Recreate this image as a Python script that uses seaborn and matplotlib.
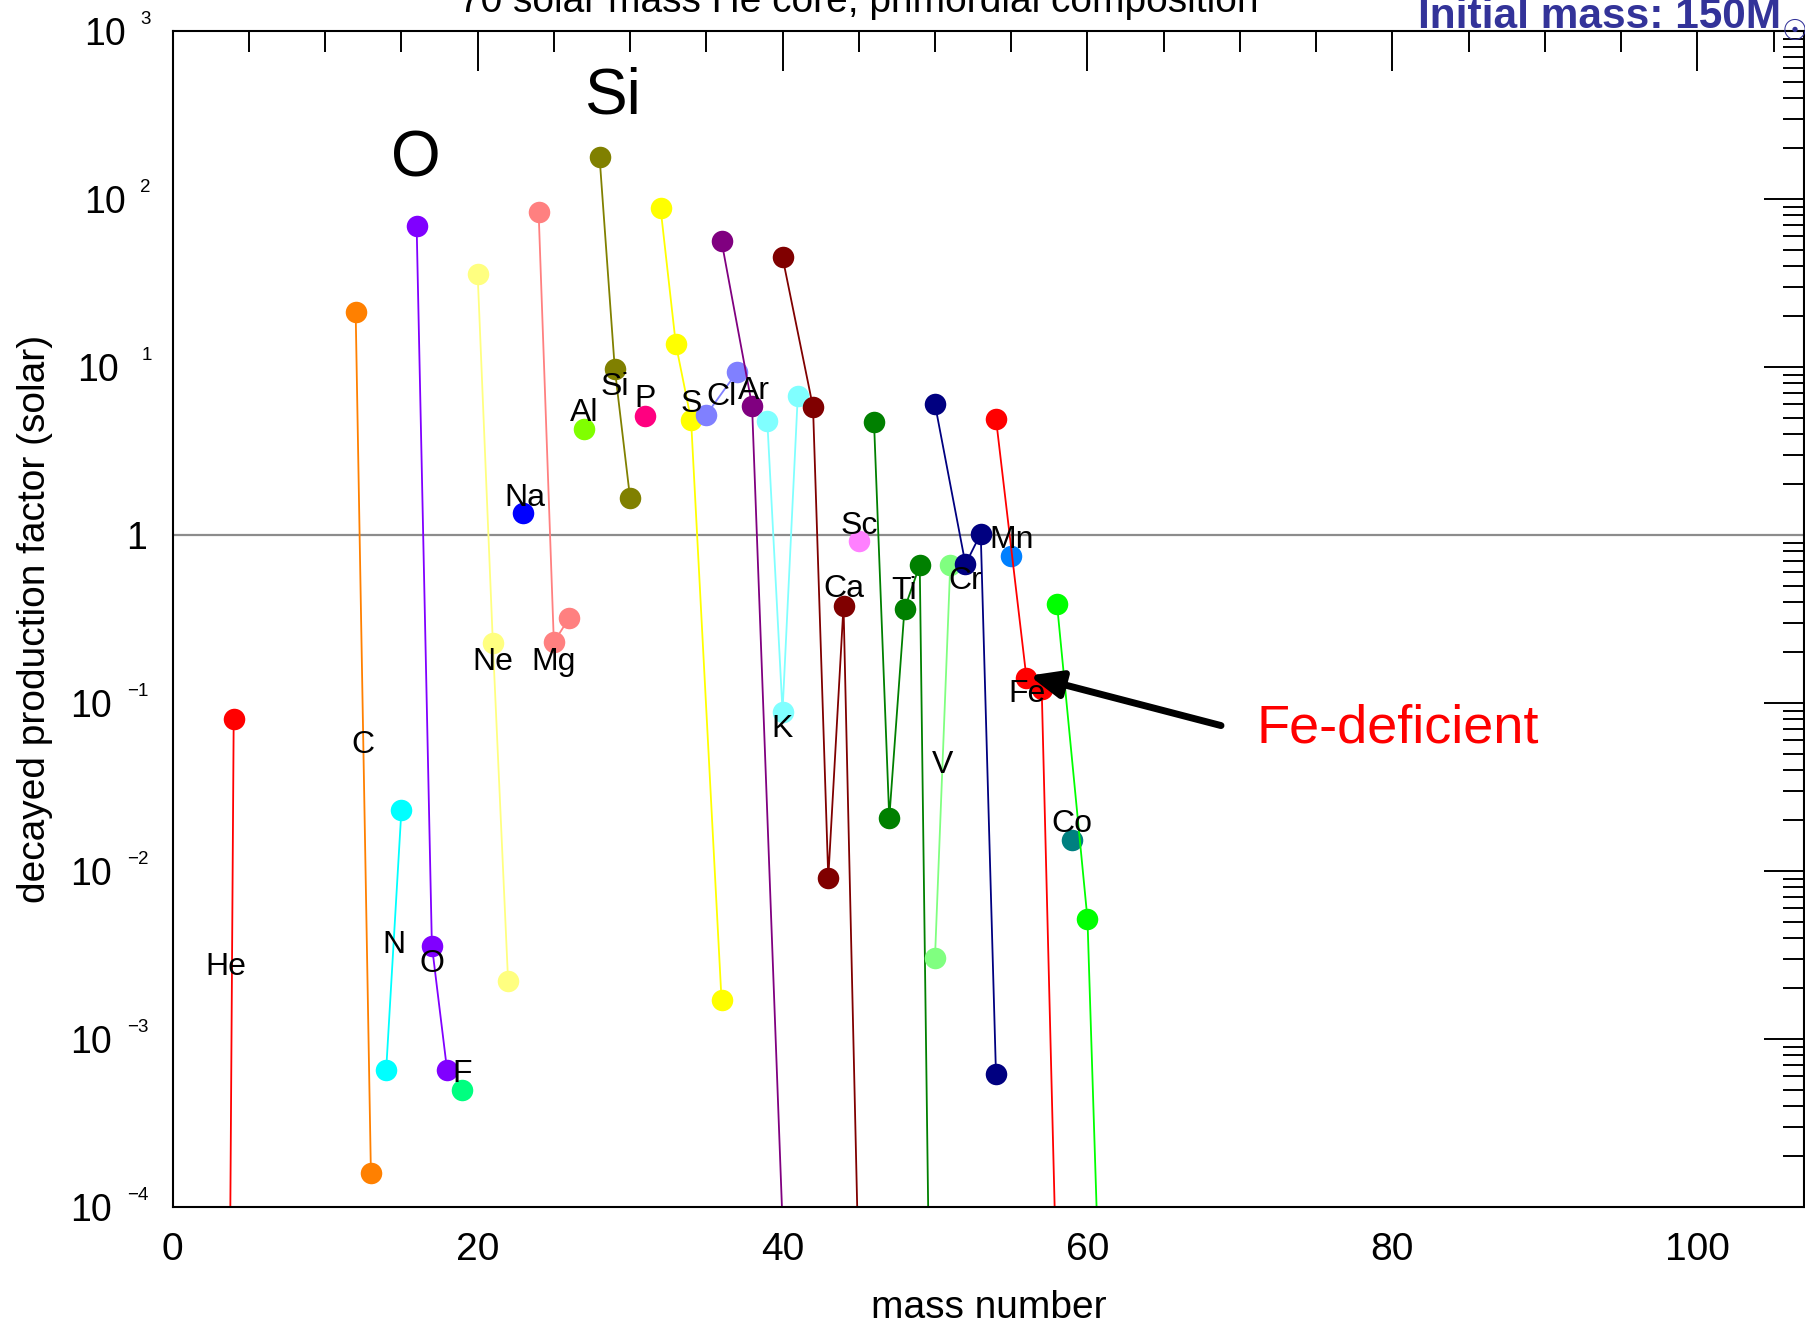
import numpy as np
import pandas as pd
import matplotlib
matplotlib.use("Agg")
import matplotlib.pyplot as plt
from matplotlib.ticker import MultipleLocator, LogLocator, NullFormatter
import seaborn as sns

# ---------------- data ----------------
elements = ["He", "C", "N", "O", "F", "Ne", "Na", "Mg", "Al", "Si", "P", "S",
            "Cl", "Ar", "K", "Ca", "Sc", "Ti", "V", "Cr", "Mn", "Fe", "Co", "Ni"]

mass_numbers = [
    [3, 4], [12, 13], [14, 15], [16, 17, 18], [19], [20, 21, 22], [23],
    [24, 25, 26], [27], [28, 29, 30], [31], [32, 33, 34, 36], [35, 37],
    [36, 38, 40], [39, 40, 41], [40, 42, 43, 44, 46, 48], [45],
    [46, 47, 48, 49, 50], [50, 51], [50, 52, 53, 54], [55], [54, 56, 57, 58],
    [59], [58, 60, 61, 62, 64],
]

production_factors = [
    [5e-15, 0.08], [21.3, 1.6e-4], [6.5e-4, 0.023], [69.0, 3.6e-3, 6.5e-4],
    [5.0e-4], [36.0, 0.227, 2.2e-3], [1.35], [84.0, 0.23, 0.32], [4.3],
    [177.0, 9.7, 1.66], [5.08], [88.0, 13.7, 4.85, 1.7e-3], [5.2, 9.3],
    [56.0, 5.9, 8e-5], [4.77, 0.089, 6.75],
    [45.0, 5.77, 9.1e-3, 0.38, 4e-9, 1e-7], [0.92],
    [4.7, 0.0206, 0.364, 0.66, 8e-8], [3.05e-3, 0.66],
    [6.0, 0.67, 1.02, 6.2e-4], [0.75], [4.92, 0.141, 0.121, 2.8e-5],
    [0.0153], [0.39, 5.2e-3, 7e-6, 1e-6, 1e-8],
]

colors = ["#ff0000", "#ff8000", "#00ffff", "#8000ff", "#00ff80", "#ffff80",
          "#0000ff", "#ff8080", "#80ff00", "#808000", "#ff0080", "#ffff00",
          "#8080ff", "#800080", "#80ffff", "#800000", "#ff80ff", "#008000",
          "#80ff80", "#000080", "#0080ff", "#ff0000", "#008080", "#00ff00"]

# element label positions (data coords)
label_names = ["He", "C", "N", "O", "F", "Ne", "Na", "Mg", "Al", "Si", "P", "S",
               "Cl", "Ar", "K", "Ca", "Sc", "Ti", "V", "Cr", "Mn", "Fe", "Co"]
label_x = [3.47, 12.46, 14.5, 17.0, 18.96, 21.0, 23.1, 25.0, 27.0, 29.0, 31.0,
           34.0, 36.0, 38.1, 40.0, 44.0, 45.0, 48.0, 50.5, 52.0, 55.05, 56.05, 59.0]
label_y = [2.8e-3, 0.059, 3.8e-3, 2.95e-3, 6.5e-4, 0.185, 1.75, 0.185, 5.6, 8.0,
           6.75, 6.3, 7.0, 7.5, 0.073, 0.50, 1.19, 0.485, 0.045, 0.56, 0.985,
           0.119, 0.020]

x_ticks = [0, 20, 40, 60, 80, 100]
y_exponents = [-4, -3, -2, -1, 0, 1, 2, 3]

# ---------------- build table ----------------
rows = []
for el, As, pfs in zip(elements, mass_numbers, production_factors):
    for a, p in zip(As, pfs):
        rows.append({"element": el, "A": a, "pf": p})
df = pd.DataFrame(rows)
palette = dict(zip(elements, colors))

# ---------------- style ----------------
sns.set_style("white")
plt.rcParams['font.family'] = ['Liberation Sans', 'DejaVu Sans']
plt.rcParams['axes.linewidth'] = 1.5
plt.rcParams['axes.edgecolor'] = 'black'
plt.rcParams['axes.unicode_minus'] = True
plt.rcParams['text.color'] = 'black'
plt.rcParams['axes.labelcolor'] = 'black'
plt.rcParams['xtick.color'] = 'black'
plt.rcParams['ytick.color'] = 'black'
plt.rcParams['xtick.labelcolor'] = 'black'
plt.rcParams['ytick.labelcolor'] = 'black'

fig = plt.figure(figsize=(18.06, 13.23), dpi=100)
ax = fig.add_axes([0.09563, 0.08768, 0.90326, 0.88888])
ax.set_yscale("log")

ax.axhline(1.0, color="#8c8c8c", lw=1.6, zorder=1.5)

sns.lineplot(data=df, x="A", y="pf", hue="element", hue_order=elements,
             palette=palette, estimator=None, sort=False, marker="o",
             markersize=15.5, markeredgewidth=0, linewidth=1.3,
             legend=False, ax=ax, zorder=2)

ax.set_xlim(0, 107)
ax.set_ylim(1e-4, 1e3)

# ticks
ax.xaxis.set_major_locator(plt.FixedLocator(x_ticks))
ax.xaxis.set_minor_locator(MultipleLocator(5))
ax.yaxis.set_major_locator(LogLocator(base=10, numticks=20))
ax.yaxis.set_minor_locator(LogLocator(base=10, subs=np.arange(2, 10), numticks=20))
ax.yaxis.set_major_formatter(NullFormatter())
ax.yaxis.set_minor_formatter(NullFormatter())
ax.tick_params(which="both", direction="in", top=True, right=True,
               color="black", width=1.4, labelcolor="black")
ax.tick_params(which="major", length=28.8)
ax.tick_params(which="minor", length=15)
ax.tick_params(axis="x", labelsize=28, pad=18)
ax.tick_params(axis="y", labelleft=False)

# y tick labels in "10 ^n" style
for k in y_exponents:
    val = 10.0 ** k
    if k == 0:
        ax.annotate("1", xy=(0, val), xycoords=("axes fraction", "data"),
                    xytext=(-18.5, 0), textcoords="offset points",
                    ha="right", va="center_baseline", fontsize=27,
                    color="black", annotation_clip=False)
        continue
    if k > 0:
        base_dx, exp_dx = -33.6, -23.3
        if k == 1:
            base_dx, exp_dx = -38.5, -22.5
    else:
        base_dx, exp_dx = -44.0, -32.5
    ax.annotate("10", xy=(0, val), xycoords=("axes fraction", "data"),
                xytext=(base_dx, 0), textcoords="offset points",
                ha="right", va="center_baseline", fontsize=27,
                color="black", annotation_clip=False)
    exp_txt = str(k) if k > 0 else "\u2212" + str(-k)
    ax.annotate(exp_txt, xy=(0, val), xycoords=("axes fraction", "data"),
                xytext=(exp_dx, 9.4), textcoords="offset points",
                ha="left", va="center_baseline", fontsize=13.5,
                color="black", annotation_clip=False)

ax.set_xlabel("mass number", fontsize=28, color="black")
ax.xaxis.set_label_coords(0.5, -0.0708)
ax.set_ylabel("decayed production factor (solar)", fontsize=28, va="center",
              color="black")
ax.yaxis.set_label_coords(-0.0844, 0.5)

# element labels
for name, lx, ly in zip(label_names, label_x, label_y):
    ax.text(lx, ly, name, fontsize=23, ha="center", va="center_baseline",
            color="black", zorder=5)

ax.text(15.94, 173, "O", fontsize=46, ha="center", va="center",
        color="black", zorder=5)
ax.text(28.83, 410, "Si", fontsize=46, ha="center", va="center",
        color="black", zorder=5)

# Fe-deficient annotation
ax.annotate("", xy=(56.18, 0.1455), xytext=(68.76, 0.0734),
            arrowprops=dict(arrowstyle="-|>,head_length=0.4,head_width=0.17",
                            mutation_scale=48, lw=5, color="black",
                            shrinkA=0, shrinkB=0), zorder=6)
ax.text(71.12, 0.058, "Fe-deficient", fontsize=39, color="#ff0000",
        ha="left", va="baseline", zorder=6)

# titles (partially clipped at figure top, as in the reference)
fig.text(859 / 1806, 1 - 11.5 / 1323,
         "70 solar mass He core, primordial composition",
         ha="center", va="baseline", fontsize=28, color="black")
fig.text(1781 / 1806, 1 - 28 / 1323, "Initial mass: 150M",
         ha="right", va="baseline", fontsize=30.5, fontweight="bold",
         color="#333399")
fig.text(1795 / 1806, 1 - 32 / 1323, "\u2609", ha="center", va="center",
         fontsize=21, fontweight="bold", color="#333399",
         family=["DejaVu Sans"])

fig.savefig("out.png", dpi=100)
